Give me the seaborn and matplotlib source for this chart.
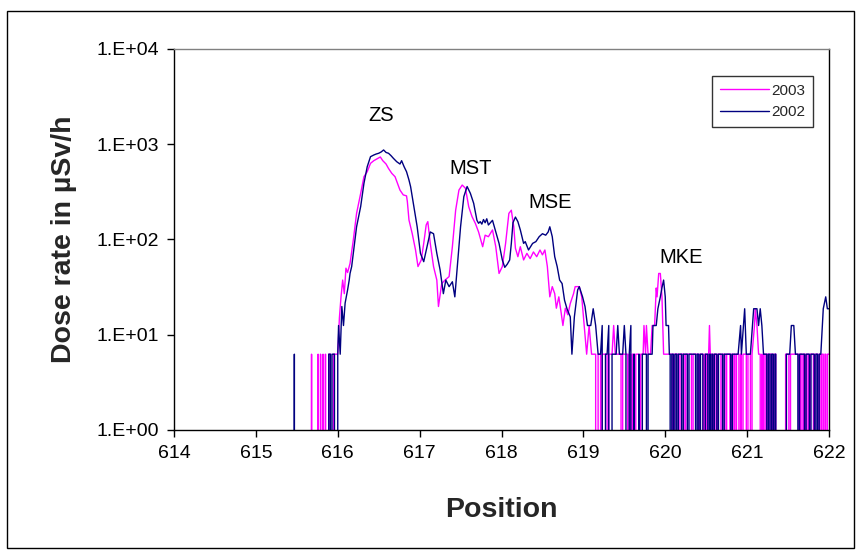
import numpy as np
import pandas as pd
import matplotlib
matplotlib.use("Agg")
import matplotlib.pyplot as plt
import matplotlib.ticker as mticker
from matplotlib.patches import Rectangle
import seaborn as sns

# Dose-rate profile along the track, survey 2002
pos_2002 = [
    615.40, 615.46, 615.47, 615.48, 615.88, 615.89, 615.91, 615.92, 615.93, 615.96,
    615.98, 616.00, 616.01, 616.03, 616.05, 616.07, 616.09, 616.12, 616.14, 616.15,
    616.17, 616.19, 616.23, 616.28, 616.32, 616.36, 616.40, 616.44, 616.47, 616.50,
    616.53, 616.56, 616.59, 616.62, 616.65, 616.68, 616.72, 616.76, 616.78, 616.81,
    616.84, 616.87, 616.89, 616.93, 616.97, 617.01, 617.05, 617.09, 617.13, 617.17,
    617.21, 617.25, 617.29, 617.32, 617.36, 617.40, 617.43, 617.46, 617.50, 617.54,
    617.58, 617.62, 617.66, 617.70, 617.72, 617.74, 617.76, 617.78, 617.80, 617.82,
    617.84, 617.87, 617.89, 617.93, 617.97, 618.01, 618.04, 618.07, 618.10, 618.12,
    618.14, 618.17, 618.20, 618.23, 618.27, 618.29, 618.33, 618.38, 618.42, 618.46,
    618.50, 618.54, 618.57, 618.59, 618.62, 618.65, 618.68, 618.71, 618.74, 618.77,
    618.80, 618.84, 618.86, 618.89, 618.93, 618.95, 618.99, 619.02, 619.05, 619.09,
    619.12, 619.15, 619.18, 619.21, 619.23, 619.25, 619.27, 619.29, 619.31, 619.33,
    619.35, 619.40, 619.42, 619.44, 619.48, 619.50, 619.52, 619.54, 619.56, 619.58,
    619.60, 619.62, 619.64, 619.66, 619.68, 619.70, 619.72, 619.77, 619.78, 619.79,
    619.84, 619.85, 619.89, 619.91, 619.94, 619.96, 619.98, 620.00, 620.01, 620.04,
    620.05, 620.06, 620.07, 620.08, 620.10, 620.11, 620.12, 620.14, 620.15, 620.16,
    620.20, 620.21, 620.22, 620.27, 620.28, 620.29, 620.37, 620.38, 620.39, 620.41,
    620.42, 620.43, 620.46, 620.47, 620.48, 620.49, 620.52, 620.53, 620.54, 620.55,
    620.56, 620.57, 620.58, 620.59, 620.60, 620.63, 620.64, 620.65, 620.70, 620.71,
    620.72, 620.80, 620.81, 620.82, 620.89, 620.92, 620.93, 620.97, 620.99, 621.04,
    621.08, 621.12, 621.14, 621.16, 621.18, 621.20, 621.24, 621.25, 621.26, 621.28,
    621.29, 621.30, 621.32, 621.33, 621.34, 621.35, 621.36, 621.46, 621.48, 621.52,
    621.54, 621.57, 621.59, 621.62, 621.63, 621.64, 621.70, 621.71, 621.72, 621.76,
    621.77, 621.78, 621.82, 621.83, 621.84, 621.86, 621.87, 621.88, 621.90, 621.93,
    621.96, 621.98, 622.00,
]
dose_2002 = [
    0, 0, 6.25, 0, 0, 6.25, 6.25, 0, 6.25, 6.25,
    0, 6.25, 12.5, 6.25, 19.8, 12.5, 21.5, 29.5, 37.5, 44,
    52, 71.5, 136, 222, 389, 581, 740, 771, 790, 804,
    830, 871, 820, 804, 760, 711, 656, 620, 672, 582,
    515, 421, 358, 220, 136, 71.5, 58.5, 84, 120, 115,
    71.5, 48, 27, 37.5, 32, 36, 25, 52, 136, 282,
    360, 305, 240, 159, 148, 154, 145, 162, 150, 165,
    142, 152, 159, 120, 91, 61, 51, 55, 61, 91,
    150, 172, 154, 126, 91, 95, 77.6, 91, 95, 107,
    115, 111, 120, 136, 107, 66, 52, 37.5, 34.5, 23,
    18.75, 15.4, 6.25, 15.4, 29.5, 32, 25, 19.8, 12.5, 12.5,
    18.75, 12.5, 6.25, 6.25, 12.5, 0, 6.25, 6.25, 12.5, 0,
    6.25, 6.25, 12.5, 6.25, 6.25, 12.5, 6.25, 0, 6.25, 12.5,
    0, 6.25, 0, 0, 6.25, 0, 6.25, 6.25, 0, 6.25,
    6.25, 12.5, 12.5, 18.75, 25, 31.25, 37.5, 25, 12.5, 12.5,
    6.25, 6.25, 0, 6.25, 6.25, 0, 6.25, 6.25, 0, 6.25,
    6.25, 0, 6.25, 6.25, 0, 6.25, 6.25, 0, 6.25, 6.25,
    0, 6.25, 6.25, 0, 0, 6.25, 6.25, 0, 6.25, 6.25,
    0, 6.25, 6.25, 0, 6.25, 6.25, 0, 6.25, 6.25, 0,
    6.25, 6.25, 0, 6.25, 6.25, 12.5, 6.25, 18.75, 6.25, 6.25,
    18.75, 18.75, 12.5, 18.75, 12.5, 6.25, 6.25, 0, 6.25, 6.25,
    0, 6.25, 6.25, 0, 6.25, 6.25, 0, 0, 6.25, 6.25,
    12.5, 12.5, 6.25, 6.25, 0, 6.25, 6.25, 0, 6.25, 6.25,
    0, 6.25, 6.25, 0, 6.25, 6.25, 0, 6.25, 6.25, 18.75,
    25, 18.75, 18.75,
]

# Dose-rate profile along the track, survey 2003
pos_2003 = [
    615.60, 615.67, 615.68, 615.69, 615.75, 615.76, 615.77, 615.78, 615.79, 615.80,
    615.81, 615.82, 615.83, 615.84, 615.85, 615.86, 615.88, 615.89, 615.91, 615.92,
    615.94, 615.95, 616.00, 616.02, 616.04, 616.06, 616.08, 616.10, 616.12, 616.15,
    616.19, 616.23, 616.28, 616.32, 616.36, 616.40, 616.44, 616.49, 616.52, 616.55,
    616.59, 616.62, 616.66, 616.70, 616.73, 616.76, 616.80, 616.84, 616.85, 616.87,
    616.91, 616.95, 616.98, 617.02, 617.05, 617.08, 617.10, 617.13, 617.17, 617.21,
    617.23, 617.27, 617.31, 617.36, 617.40, 617.44, 617.48, 617.52, 617.56, 617.60,
    617.64, 617.68, 617.72, 617.77, 617.80, 617.84, 617.89, 617.93, 617.97, 618.01,
    618.05, 618.09, 618.12, 618.15, 618.17, 618.20, 618.23, 618.27, 618.31, 618.35,
    618.39, 618.43, 618.47, 618.50, 618.53, 618.56, 618.59, 618.62, 618.65, 618.67,
    618.70, 618.73, 618.75, 618.78, 618.81, 618.84, 618.88, 618.90, 618.95, 618.98,
    619.01, 619.04, 619.07, 619.10, 619.15, 619.16, 619.17, 619.18, 619.21, 619.22,
    619.23, 619.29, 619.30, 619.31, 619.35, 619.37, 619.39, 619.46, 619.47, 619.48,
    619.54, 619.55, 619.56, 619.58, 619.59, 619.60, 619.62, 619.63, 619.64, 619.68,
    619.69, 619.70, 619.73, 619.74, 619.76, 619.77, 619.79, 619.82, 619.84, 619.87,
    619.89, 619.90, 619.92, 619.94, 619.96, 619.98, 620.09, 620.10, 620.11, 620.16,
    620.17, 620.18, 620.23, 620.24, 620.25, 620.32, 620.33, 620.34, 620.40, 620.41,
    620.42, 620.46, 620.47, 620.48, 620.50, 620.51, 620.52, 620.53, 620.54, 620.55,
    620.57, 620.58, 620.59, 620.62, 620.63, 620.64, 620.68, 620.69, 620.70, 620.73,
    620.74, 620.75, 620.79, 620.80, 620.81, 620.82, 620.83, 620.84, 620.85, 620.86,
    620.87, 620.90, 620.91, 620.92, 620.93, 620.94, 620.95, 620.99, 621.00, 621.01,
    621.04, 621.05, 621.06, 621.09, 621.10, 621.12, 621.14, 621.16, 621.17, 621.18,
    621.19, 621.20, 621.22, 621.23, 621.24, 621.26, 621.27, 621.28, 621.31, 621.32,
    621.33, 621.35, 621.36, 621.46, 621.47, 621.51, 621.52, 621.53, 621.63, 621.64,
    621.65, 621.67, 621.68, 621.69, 621.71, 621.72, 621.73, 621.75, 621.76, 621.77,
    621.81, 621.82, 621.83, 621.86, 621.87, 621.88, 621.89, 621.90, 621.91, 621.93,
    621.94, 621.95, 621.96, 621.97, 621.98, 622.00,
]
dose_2003 = [
    0, 0, 6.25, 0, 0, 6.25, 0, 0, 6.25, 0,
    0, 6.25, 0, 0, 6.25, 0, 0, 6.25, 6.25, 0,
    0, 6.25, 6.25, 15, 25, 37.5, 27, 50, 45, 56,
    98.6, 188, 305, 456, 515, 630, 672, 711, 735, 672,
    620, 557, 495, 456, 389, 330, 294, 287, 250, 160,
    115, 77.6, 52, 61, 91, 142, 154, 91, 52, 37.5,
    19.8, 34.5, 37.5, 40.8, 84, 203, 330, 373, 345, 220,
    174, 148, 120, 84, 111, 107, 126, 84, 44, 52,
    91, 188, 203, 136, 81, 66, 84, 61, 71.5, 63,
    74, 66, 77.6, 69, 77.6, 52, 25, 32, 27, 19,
    25, 16.7, 12.5, 19, 16.2, 21.3, 27, 32, 32, 25,
    12.5, 6.25, 12.5, 6.25, 6.25, 0, 0, 6.25, 6.25, 0,
    6.25, 6.25, 0, 6.25, 6.25, 12.5, 6.25, 6.25, 0, 6.25,
    6.25, 0, 6.25, 6.25, 0, 6.25, 6.25, 0, 6.25, 6.25,
    0, 6.25, 6.25, 12.5, 6.25, 12.5, 6.25, 6.25, 12.5, 12.5,
    31, 25, 44, 44, 25, 6.25, 6.25, 0, 6.25, 6.25,
    0, 6.25, 6.25, 0, 6.25, 6.25, 0, 6.25, 6.25, 0,
    6.25, 6.25, 0, 6.25, 6.25, 0, 6.25, 6.25, 12.5, 6.25,
    6.25, 0, 6.25, 6.25, 0, 6.25, 6.25, 0, 6.25, 6.25,
    0, 6.25, 6.25, 0, 6.25, 6.25, 0, 6.25, 6.25, 0,
    6.25, 6.25, 0, 6.25, 6.25, 0, 6.25, 6.25, 0, 6.25,
    6.25, 0, 6.25, 12.5, 18.75, 12.5, 6.25, 6.25, 0, 6.25,
    0, 6.25, 6.25, 0, 6.25, 6.25, 0, 6.25, 6.25, 0,
    6.25, 6.25, 0, 0, 6.25, 6.25, 0, 6.25, 6.25, 0,
    6.25, 6.25, 0, 6.25, 6.25, 0, 6.25, 6.25, 0, 6.25,
    6.25, 0, 6.25, 6.25, 0, 6.25, 6.25, 0, 6.25, 6.25,
    0, 6.25, 6.25, 0, 6.25, 6.25,
]

years = ["2003", "2002"]
year_colors = {"2003": "#FF00FF", "2002": "#000080"}

x_ticks = [614, 615, 616, 617, 618, 619, 620, 621, 622]
y_ticks = [1, 10, 100, 1000, 10000]
y_tick_labels = ["1.E+00", "1.E+01", "1.E+02", "1.E+03", "1.E+04"]

peak_names = ["ZS", "MST", "MSE", "MKE"]
peak_pos = [616.53, 617.62, 618.60, 620.19]
peak_dose = [2000, 550, 242, 64]

df = pd.concat([
    pd.DataFrame({"Position": pos_2003, "Dose": dose_2003, "Year": "2003"}),
    pd.DataFrame({"Position": pos_2002, "Dose": dose_2002, "Year": "2002"}),
], ignore_index=True)

sns.set_style("white")
plt.rcParams["font.family"] = ["Liberation Sans", "DejaVu Sans"]

W, H = 856, 551
fig = plt.figure(figsize=(W / 100, H / 100), dpi=100)
ax = fig.add_axes([174 / W, 1 - 430 / H, (829 - 174) / W, (430 - 49) / H])

sns.lineplot(data=df, x="Position", y="Dose", hue="Year", hue_order=years,
             palette=year_colors, estimator=None, sort=False, linewidth=1.0,
             legend=False, ax=ax)

ax.set_yscale("log", nonpositive="clip")
ax.set_xlim(614, 622)
ax.set_ylim(1, 10000)
ax.set_xticks(x_ticks)
ax.set_xticklabels([str(t) for t in x_ticks])
ax.set_yticks(y_ticks)
ax.set_yticklabels(y_tick_labels)
ax.yaxis.set_minor_locator(mticker.NullLocator())
ax.xaxis.set_minor_locator(mticker.NullLocator())
ax.tick_params(axis="both", which="major", direction="out", length=5, width=1,
               color="black", labelsize=14, labelcolor="black", pad=6,
               left=True, bottom=True)

for side in ["left", "bottom", "right"]:
    ax.spines[side].set_color("black")
    ax.spines[side].set_linewidth(1.0)
ax.spines["top"].set_color("#808080")
ax.spines["top"].set_linewidth(1.0)
for s in ax.spines.values():
    s.set_visible(True)

ax.set_xlabel("Position", fontsize=20.5, fontweight="bold", labelpad=25)
ax.set_ylabel("Dose rate in µSv/h", fontsize=20.5, fontweight="bold", labelpad=14)

for name, px, py in zip(peak_names, peak_pos, peak_dose):
    ax.text(px, py, name, fontsize=14.5, ha="center", va="center", color="black")

handles = [plt.Line2D([], [], color=year_colors[y], lw=1.0) for y in years]
leg = ax.legend(handles, years, loc="upper left",
                bbox_to_anchor=(712 / W, 1 - 76 / H), bbox_transform=fig.transFigure,
                borderaxespad=0, frameon=True, fancybox=False, fontsize=11,
                handlelength=3.2, handletextpad=0.2, borderpad=0.5,
                labelspacing=0.5)
leg.get_frame().set_edgecolor("black")
leg.get_frame().set_linewidth(1.0)

fig.patches.append(Rectangle((7.5 / W, 1 - 548 / H), (854 - 7.5) / W, (548 - 10.5) / H,
                             transform=fig.transFigure, fill=False,
                             edgecolor="black", linewidth=1.0))

fig.savefig("out.png", dpi=100)
